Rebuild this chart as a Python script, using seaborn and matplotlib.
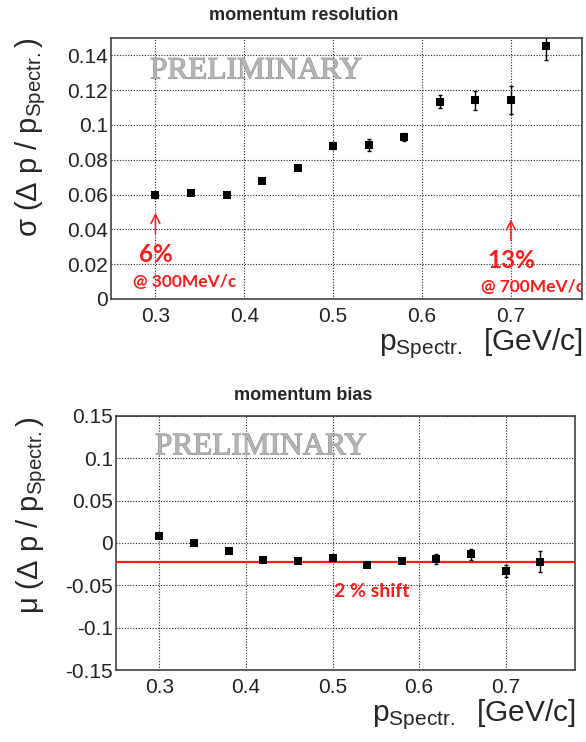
"""
Momentum resolution and bias vs spectrometer momentum (ROOT-style panels).
Output: out.png (586x742)
"""

import matplotlib
matplotlib.use("Agg")

import matplotlib.pyplot as plt
import matplotlib.ticker as mticker
import matplotlib.patheffects as pe
import seaborn as sns
import pandas as pd

# ---------------------------------------------------------------------------
# Data
# ---------------------------------------------------------------------------

p_spectr = [0.30, 0.34, 0.38, 0.42, 0.46, 0.50, 0.54, 0.58, 0.62, 0.66, 0.70, 0.74]

sigma_res = [0.0595, 0.0612, 0.0597, 0.0680, 0.0755, 0.0882, 0.0886, 0.0931,
             0.1135, 0.1142, 0.1145, 0.1455]
sigma_err = [0.0012, 0.0012, 0.0012, 0.0012, 0.0015, 0.0022, 0.0035, 0.0025,
             0.0037, 0.0056, 0.0080, 0.0080]

mu_bias = [0.008, 0.000, -0.010, -0.020, -0.021, -0.018, -0.026, -0.021,
           -0.019, -0.013, -0.033, -0.022]
mu_err = [0.002, 0.0015, 0.0015, 0.002, 0.002, 0.002, 0.002, 0.002,
          0.006, 0.0065, 0.007, 0.012]

shift_level = -0.022

res_df = pd.DataFrame({"p": p_spectr, "val": sigma_res, "err": sigma_err})
bias_df = pd.DataFrame({"p": p_spectr, "val": mu_bias, "err": mu_err})

# ---------------------------------------------------------------------------
# Style
# ---------------------------------------------------------------------------

sns.set_style("white")
plt.rcParams["font.family"] = ["Liberation Sans", "DejaVu Sans"]
plt.rcParams["mathtext.fontset"] = "custom"
plt.rcParams["mathtext.rm"] = "Liberation Sans"
plt.rcParams["mathtext.it"] = "Liberation Sans:italic"

RED = "#ff1a1a"
NOTE_FONT = ["Lato", "DejaVu Sans"]
TICK_FS = 15
XLABEL_FS = 21.5
YLABEL_FS = 21
W, H = 586, 742


def style_axes(ax, ymajor, yminor):
    ax.set_xlim(0.25, 0.78)
    ax.xaxis.set_major_locator(mticker.MultipleLocator(0.1))
    ax.xaxis.set_minor_locator(mticker.MultipleLocator(0.02))
    ax.yaxis.set_major_locator(mticker.MultipleLocator(ymajor))
    ax.yaxis.set_minor_locator(mticker.MultipleLocator(yminor))
    ax.xaxis.set_major_formatter(mticker.FuncFormatter(lambda v, _: f"{v:g}"))
    ax.yaxis.set_major_formatter(mticker.FuncFormatter(lambda v, _: f"{round(v, 3):g}"))
    ax.tick_params(which="both", direction="in", top=False, right=False,
                   labelsize=TICK_FS, colors="#222222", pad=2)
    ax.tick_params(which="major", length=6.5, width=1)
    ax.tick_params(which="minor", length=3.2, width=1)
    ax.tick_params(axis="x", pad=6)
    for sp in ax.spines.values():
        sp.set_edgecolor("#333333")
        sp.set_linewidth(1.1)
    ax.grid(which="major", color="#222222", linestyle=(0, (1, 1.5)), linewidth=0.8)
    ax.set_axisbelow(True)


def draw_points(ax, df):
    ax.errorbar(df["p"], df["val"], yerr=df["err"], fmt="none",
                ecolor="black", elinewidth=1, capsize=1.5, capthick=1, zorder=3)
    sns.scatterplot(data=df, x="p", y="val", marker="s", s=32, color="black",
                    edgecolor="black", linewidth=0, ax=ax, zorder=4, legend=False)


def watermark(ax, x, y):
    ax.text(x, y, "PRELIMINARY", fontsize=22.5, family=["Liberation Serif", "DejaVu Serif"],
            color="#b4b4b4", ha="left", va="center", zorder=2,
            path_effects=[pe.withStroke(linewidth=0.7, foreground="#8c8c8c")])


def red_arrow(ax, x, y_tail, y_tip):
    ax.annotate("", xy=(x, y_tip), xytext=(x, y_tail),
                arrowprops=dict(arrowstyle="->", color=RED, lw=1.1, mutation_scale=16,
                                shrinkA=0, shrinkB=0))


def red_note(ax, x_big, y_big, x_small, y_small, big, small):
    ax.text(x_big, y_big, big, color=RED, fontsize=17.5, fontweight="bold",
            family=NOTE_FONT, ha="center", va="center", zorder=5)
    # the small line is cut by the frame in the reference, so keep it clipped
    ax.text(x_small, y_small, small, color=RED, fontsize=12.5, fontweight="bold",
            family=NOTE_FONT, ha="center", va="center", zorder=5, clip_on=True)


# ---------------------------------------------------------------------------
# Figure
# ---------------------------------------------------------------------------

fig = plt.figure(figsize=(W / 100, H / 100), dpi=100)
fig.patch.set_facecolor("white")

ax1 = fig.add_axes([111 / W, 1 - 299 / H, (582 - 111) / W, (299 - 38) / H])
ax2 = fig.add_axes([116 / W, 1 - 670 / H, (575 - 116) / W, (670 - 416) / H])

# --- top: momentum resolution
style_axes(ax1, 0.02, 0.005)
ax1.set_ylim(0, 0.15)
draw_points(ax1, res_df)
watermark(ax1, 0.294, 0.131)

red_arrow(ax1, 0.30, 0.0375, 0.0495)
red_arrow(ax1, 0.70, 0.0335, 0.0458)
red_note(ax1, 0.300, 0.0255, 0.333, 0.0098, "6%", "@ 300MeV/c")
red_note(ax1, 0.701, 0.0220, 0.724, 0.0068, "13%", "@ 700MeV/c")

ax1.set_xlabel(r"p$_{\rm Spectr.}$  [GeV/c]", fontsize=XLABEL_FS, loc="right", labelpad=0)
ax1.set_ylabel(r"σ (Δ p / p$_{\rm Spectr.}$)", fontsize=YLABEL_FS, loc="top", labelpad=14)
fig.text(304 / W, 1 - 16 / H, "momentum resolution", ha="center", va="center",
         fontsize=13, fontweight="bold")

# --- bottom: momentum bias
style_axes(ax2, 0.05, 0.01)
ax2.set_ylim(-0.15, 0.15)
draw_points(ax2, bias_df)
ax2.axhline(shift_level, color=RED, lw=1.6, zorder=3.5)
watermark(ax2, 0.295, 0.1136)
ax2.text(0.502, -0.057, "2 % shift", color=RED, fontsize=14, fontweight="bold",
         family=NOTE_FONT, ha="left", va="center", zorder=5)

ax2.set_xlabel(r"p$_{\rm Spectr.}$  [GeV/c]", fontsize=XLABEL_FS, loc="right", labelpad=0)
ax2.set_ylabel(r"μ (Δ p / p$_{\rm Spectr.}$)", fontsize=YLABEL_FS, loc="top", labelpad=12)
fig.text(303 / W, 1 - 396 / H, "momentum bias", ha="center", va="center",
         fontsize=13, fontweight="bold")

fig.savefig("out.png", dpi=100)
plt.close(fig)
